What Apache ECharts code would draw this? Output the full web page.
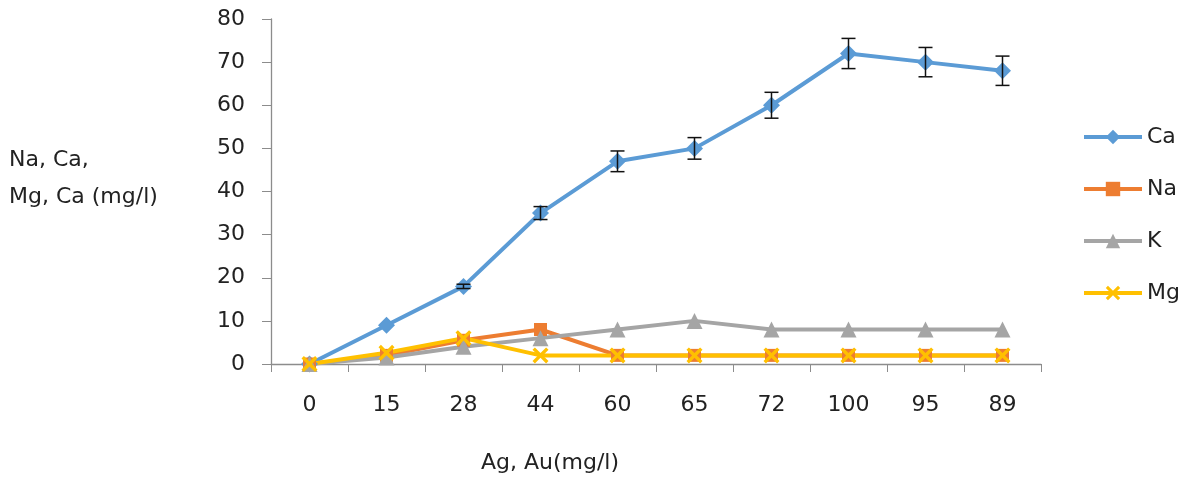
<!DOCTYPE html>
<html>
<head>
<meta charset="utf-8">
<script src="https://cdn.jsdelivr.net/npm/echarts@6/dist/echarts.min.js"></script>
<style>html,body{margin:0;padding:0;background:#fff}#c{width:1196px;height:482px}</style>
</head>
<body>
<div id="c"></div>
<script>
const categories = ['0','15','28','44','60','65','72','100','95','89'];
const ca = [0, 9, 18, 35, 47, 50, 60, 72, 70, 68];
const caErr = [0, 0, 0.5, 1.5, 2.4, 2.5, 3, 3.5, 3.4, 3.4];
const na = [0, 2, 5.5, 8, 2, 2, 2, 2, 2, 2];
const k = [0, 1.5, 4, 6, 8, 10, 8, 8, 8, 8];
const mg = [0, 2.6, 6, 2, 2, 2, 2, 2, 2, 2];
const yTicks = [0, 10, 20, 30, 40, 50, 60, 70, 80];

const FONT = 'DejaVu Sans';
const FS = 22;
const TXT = '#222';
const xPath = 'path://M0,3 L3,0 L10,7 L17,0 L20,3 L13,10 L20,17 L17,20 L10,13 L3,20 L0,17 L7,10 Z';

const chart = echarts.init(document.getElementById('c'));
const lineSeries = (name, data, color, symbol, size) => ({
  name, type: 'line', data, symbol, symbolSize: size,
  lineStyle: {color, width: 4}, itemStyle: {color},
  z: 3
});
const tfont = FS + 'px "' + FONT + '"';
chart.setOption({
  animation: false,
  textStyle: {fontFamily: FONT},
  grid: {left: 271, right: 155, top: 19, bottom: 118},
  legend: {
    orient: 'vertical', left: 1082, top: 126, padding: 0, itemWidth: 58, itemHeight: 18, itemGap: 30,
    lineStyle: {width: 4},
    textStyle: {fontSize: FS, color: TXT, fontFamily: FONT, padding: [0,0,0,0]},
    data: ['Ca', 'Na', 'K', 'Mg']
  },
  xAxis: {
    type: 'category', data: categories, boundaryGap: true,
    axisLine: {lineStyle: {color: '#8c8c8c', width: 1.3}},
    axisTick: {show: true, length: 8, lineStyle: {color: '#8c8c8c'}},
    axisLabel: {fontSize: FS, color: TXT, margin: 30, fontFamily: FONT}
  },
  yAxis: {
    type: 'value', min: 0, max: 80, interval: 10,
    axisLine: {show: true, lineStyle: {color: '#8c8c8c', width: 1.3}},
    axisTick: {show: true, length: 9, lineStyle: {color: '#8c8c8c'}},
    splitLine: {show: false},
    axisLabel: {fontSize: FS, color: TXT, margin: 26, fontFamily: FONT,
      formatter: v => yTicks.includes(v) ? String(v) : ''}
  },
  graphic: [
    {type: 'text', left: 9, top: 149, style: {text: 'Na, Ca,', font: tfont, fill: TXT}},
    {type: 'text', left: 9, top: 186, style: {text: 'Mg, Ca (mg/l)', font: tfont, fill: TXT}},
    {type: 'text', x: 550, y: 463, style: {text: 'Ag, Au(mg/l)', font: tfont, fill: TXT, align: 'center', verticalAlign: 'middle'}}
  ],
  series: [
    lineSeries('Ca', ca, '#5B9BD5', 'diamond', 17),
    lineSeries('Na', na, '#ED7D31', 'rect', 13),
    lineSeries('K', k, '#A5A5A5', 'triangle', 16),
    lineSeries('Mg', mg, '#FFC000', xPath, 16),
    {
      type: 'custom', name: 'err', z: 5,
      data: ca.map((v, i) => [i, v - caErr[i], v + caErr[i]]),
      renderItem: (params, api) => {
        const lo = api.value(1), hi = api.value(2);
        if (hi - lo <= 0) return;
        const p1 = api.coord([api.value(0), hi]);
        const p2 = api.coord([api.value(0), lo]);
        const w = 7;
        const st = {stroke: '#111', lineWidth: 1.5};
        return {type: 'group', children: [
          {type: 'line', shape: {x1: p1[0], y1: p1[1], x2: p2[0], y2: p2[1]}, style: st},
          {type: 'line', shape: {x1: p1[0]-w, y1: p1[1], x2: p1[0]+w, y2: p1[1]}, style: st},
          {type: 'line', shape: {x1: p2[0]-w, y1: p2[1], x2: p2[0]+w, y2: p2[1]}, style: st}
        ]};
      }
    }
  ]
});
</script>
</body>
</html>
